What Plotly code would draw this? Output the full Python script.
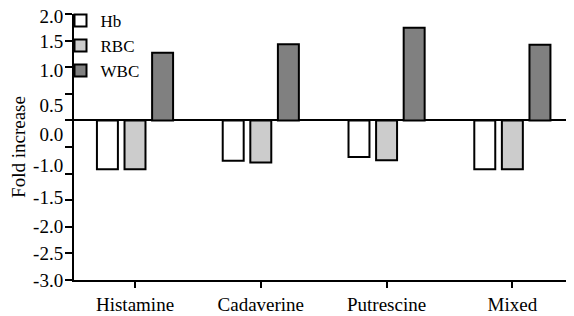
import plotly.graph_objects as go

categories = ["Histamine", "Cadaverine", "Putrescine", "Mixed"]
hb = [-0.92, -0.76, -0.69, -0.92]
rbc = [-0.92, -0.79, -0.75, -0.92]
wbc = [1.27, 1.43, 1.74, 1.42]

tick_vals = [2.0, 1.5, 1.0, 0.5, 0.0, -0.5, -1.0, -1.5, -2.0, -2.5, -3.0]
label_vals = [1.96, 1.48, 0.95, 0.29, -0.27, -0.84, -1.44, -2.0, -2.49, -3.0]
label_text = ["2.0", "1.5", "1.0", "0.5", "0.0", "-1.0", "-1.5", "-2.0", "-2.5", "-3.0"]

font_family = "Liberation Serif"

fig = go.Figure()
for name, vals, color in [("Hb", hb, "#ffffff"), ("RBC", rbc, "#cccccc"), ("WBC", wbc, "#808080")]:
    fig.add_trace(go.Bar(x=categories, y=vals, name=name,
                         marker=dict(color=color, line=dict(color="black", width=2))))

# invisible trace to carry the label axis
fig.add_trace(go.Scatter(x=[categories[0]], y=[0], yaxis="y2", mode="markers",
                         marker=dict(opacity=0), showlegend=False, hoverinfo="skip"))

fig.update_layout(
    width=566, height=308,
    margin=dict(l=66, r=0, t=6, b=36, autoexpand=False),
    paper_bgcolor="white", plot_bgcolor="white",
    barmode="group", bargap=0.342, bargroupgap=0.24,
    font=dict(family=font_family, size=19, color="black"),
    showlegend=True,
    legend=dict(x=-0.027, y=1.042, xanchor="left", yanchor="top",
                bgcolor="rgba(0,0,0,0)", font=dict(size=17, family=font_family),
                tracegroupgap=0, itemwidth=30),
    xaxis=dict(range=[-0.485, 3.49], showline=True, linecolor="black", linewidth=2,
               ticks="outside", ticklen=6, tickwidth=2, tickcolor="black",
               showgrid=False, zeroline=False, tickfont=dict(size=19)),
    yaxis=dict(range=[-3, 2], tickvals=tick_vals, showticklabels=False,
               showline=True, linecolor="black", linewidth=2,
               ticks="outside", ticklen=7, tickwidth=2, tickcolor="black",
               showgrid=False, zeroline=True, zerolinecolor="black", zerolinewidth=2),
    yaxis2=dict(range=[-3, 2], overlaying="y", side="left", tickvals=label_vals,
                ticktext=label_text, ticks="outside", ticklen=6, tickcolor="rgba(0,0,0,0)",
                showline=False, showgrid=False, zeroline=False,
                tickfont=dict(size=19), ticklabeloverflow="allow",
                title=dict(text="Fold increase", font=dict(size=19), standoff=8)),
)

fig.write_html("out.html")
